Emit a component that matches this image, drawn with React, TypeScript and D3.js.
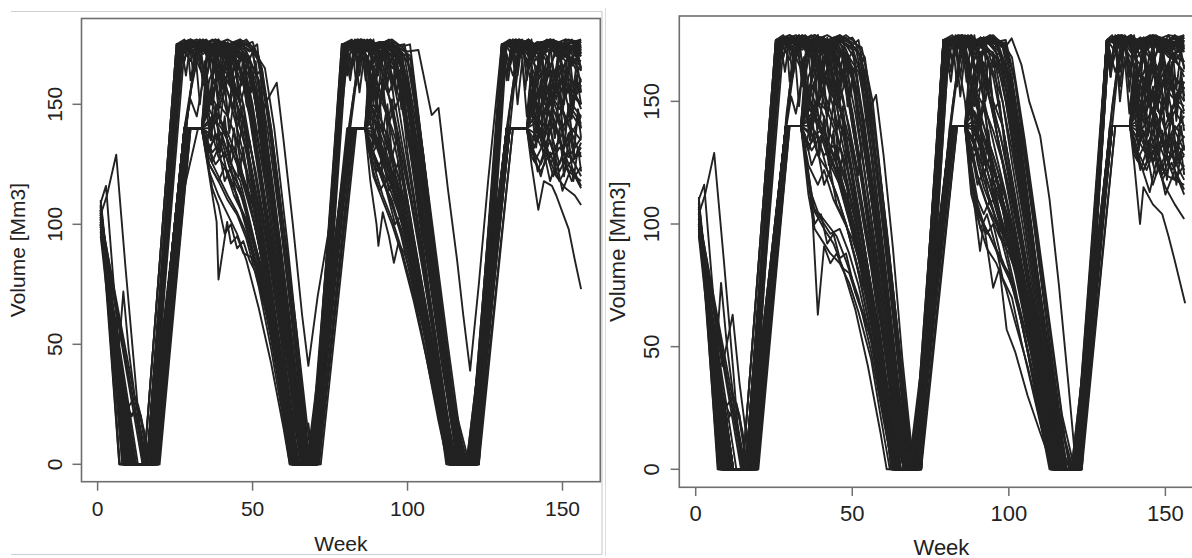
import React from "react";
import * as d3 from "d3";

// Each run: flat list of week, volume pairs
const leftRuns: number[][] = [
  [1,104, 7,0, 16,0, 26,175, 31,176, 36,173, 41,176, 45,172, 49,170, 54,130, 60,70, 64,20, 66,0, 70,0, 80,175, 86,174, 91,176, 96,171, 100,168, 105,130, 110,75, 115,20, 118,0, 121,0, 131,175, 136,176, 141,172, 146,175, 151,170, 156,168],
  [1,100, 9,0, 17,0, 28.5,140, 33.6,140, 37,158, 40,166, 43,160, 46,150, 50,128, 55,90, 59,55, 63,12, 65,0, 69,0, 81.5,140, 86.3,140, 89,155, 92,160, 95,150, 99,125, 104,90, 109,50, 113,15, 116,0, 121,0, 132.5,140, 138.5,140, 141,158, 144,165, 148,160, 152,170, 156,164],
  [1,108, 10,0, 16.5,0, 27,175, 30,173, 34,177, 38,174, 42,170, 46,175, 50,172, 53,150, 57,110, 61,65, 65,25, 68,0, 70,0, 79,175, 84,177, 88,173, 93,176, 98,172, 101,165, 105,120, 110,70, 115,25, 119,0, 122,0, 131,175, 135,177, 140,173, 145,176, 150,172, 156,175],
  [1,96, 11,0, 19.5,0, 29.5,140, 33.6,140, 36,128, 39,120, 42,112, 45,105, 48,96, 52,78, 56,52, 60,22, 63,0, 68,0, 81,140, 86.3,140, 89,128, 92,118, 95,108, 98,98, 102,80, 106,55, 110,28, 114,5, 115.5,0, 120,0, 132,140, 138.5,140, 141,150, 144,145, 147,152, 150,140, 153,148, 156,142],
  [1,110, 7,0, 15,0, 25.5,175, 29,176, 33,174, 37,177, 41,173, 45,176, 49,172, 51.5,175, 55,130, 60,75, 65,20, 69,0, 71,0, 79.5,175, 84,176, 89,173, 94,177, 98,174, 100.8,175, 105,130, 110,75, 115,25, 120,0, 123,0, 131,175, 134,177, 139,174, 143,176, 148,173, 152,177, 156,174],
  [1,102, 12,0, 17.5,0, 28,140, 30,152, 32,145, 34,160, 36,150, 39,162, 42,155, 45,145, 48,130, 52,105, 56,72, 60,38, 63.5,5, 64.5,0, 69,0, 80.5,140, 86.3,140, 89,150, 92,142, 95,130, 98,115, 102,92, 106,62, 110,32, 114,5, 115,0, 120.5,0, 133,140, 138.5,140, 140,150, 143,158, 146,150, 149,160, 152,155, 156,150],
  [1,106, 9,0, 16,0, 26.5,175, 30,172, 34,175, 38,169, 41,173, 44,166, 47,150, 51,120, 55,88, 59,55, 63,20, 66,0, 69.5,0, 78.8,175, 83,173, 87,176, 91,172, 95,174, 98,165, 102,135, 106,95, 110,60, 114,25, 117.5,0, 122,0, 130.4,175, 134,174, 138,176, 142,171, 146,175, 150,169, 153,173, 156,170],
  [1,98, 15.5,0, 19.5,0, 30,140, 33.6,140, 35,135, 38,125, 41,130, 44,118, 47,110, 50,95, 54,70, 58,40, 62,8, 63,0, 71.5,0, 83,140, 86.3,140, 88,132, 91,124, 94,116, 97,105, 100,92, 104,68, 108,42, 112,15, 115.3,0, 122.5,0, 134,140, 138.5,140, 141,132, 143,140, 146,128, 149,135, 152,125, 156,130],
  [1,103, 8.5,0, 16,0, 27,165, 28,175, 32,177, 36,174, 40,176, 44,173, 48,176, 52,168, 56,135, 60,90, 64,45, 67,8, 68,0, 70.5,0, 80,175, 85,177, 90,174, 95,176, 99,170, 103,140, 107,100, 111,60, 115,22, 118,0, 122.5,0, 131.5,175, 136,176, 141,173, 145,177, 150,174, 154,176, 156,171],
  [1,100, 10,0, 17,0, 28,140, 30.5,160, 33,174, 37,170, 40,175, 43,172, 47,168, 50,150, 54,118, 58,80, 62,40, 65,10, 66.5,0, 70,0, 81,140, 83.5,162, 86,174, 90,168, 93,172, 96,165, 100,140, 104,108, 108,72, 112,38, 116,8, 117,0, 121,0, 132,140, 134.5,162, 137,174, 140,168, 142,165, 145,175, 149,170, 153,174, 156,165],
  [1,107, 11,0, 17,0, 27.5,175, 31,174, 35,176, 39,170, 43,174, 46,165, 49,145, 53,112, 57,78, 61,45, 64.5,12, 66,0, 69,0, 79.5,175, 84,174, 88,177, 92,173, 96,170, 99,150, 103,118, 107,85, 111,50, 115,15, 117,0, 121.5,0, 131,175, 135,174, 139,177, 143,172, 147,176, 151,171, 156,176],
  [1,97, 7,40, 10,20, 12,22, 14,12, 15.5,0, 19.5,0, 29.5,140, 33.6,140, 36,122, 39,112, 42,104, 45,96, 48,85, 52,65, 56,42, 60,15, 62,0, 70.5,0, 82,140, 86.3,140, 89,120, 92,110, 95,100, 98,88, 102,68, 106,45, 110,20, 113,0, 121.5,0, 133,140, 138.5,140, 140,132, 143,125, 146,135, 149,122, 152,130, 156,120],
  [1,109, 9.5,0, 16.5,0, 26,175, 30,177, 34,175, 38,177, 42,174, 46,176, 50,173, 54,165, 57,140, 61,95, 65,45, 68,5, 69,0, 71,0, 80.5,175, 85,176, 89,174, 94,176, 98,173, 101,170, 104,140, 108,95, 112,52, 116,15, 119,0, 123,0, 132,175, 137,176, 142,174, 146,177, 151,175, 156,177],
  [1,101, 14.5,0, 18,0, 28.5,140, 33.6,140, 37,145, 40,140, 43,132, 46,122, 49,110, 53,85, 57,58, 61,28, 64,0, 69,0, 81,140, 86.3,140, 89,145, 92,135, 95,122, 98,110, 102,85, 106,58, 110,30, 114,2, 115,0, 120,0, 133,140, 138.5,140, 141,145, 144,152, 147,140, 150,148, 153,138, 156,145],
  [1,105, 8.2,0, 15.8,0, 26,170, 27,175, 31,174, 35,177, 39,172, 43,175, 47,170, 51,160, 55,125, 59,85, 63,45, 66,10, 67,0, 70,0, 79,175, 84,173, 88,176, 92,171, 96,174, 100,160, 104,125, 108,88, 112,50, 116,12, 118,0, 122,0, 130.8,175, 135,173, 139,176, 143,174, 147,177, 151,173, 156,176],
  [1,99, 5,55, 8,30, 10,24, 12,28, 14,18, 15.5,8, 16.5,0, 18.5,0, 29.5,140, 33.6,140, 36,152, 39,145, 42,138, 45,128, 48,115, 52,92, 56,65, 60,35, 63,5, 64,0, 68,0, 82,140, 86.3,140, 88,150, 91,142, 94,132, 97,120, 101,98, 105,70, 109,40, 113,10, 115,0, 120,0, 132,140, 138.5,140, 140,148, 143,142, 146,155, 149,148, 152,158, 156,150],
  [1,106, 10.5,0, 17,0, 27,175, 31,176, 34,172, 38,175, 42,171, 45,168, 48,155, 52,128, 56,95, 60,60, 64,22, 67,0, 70,0, 80,175, 84,176, 88,172, 92,175, 96,168, 99,145, 103,112, 107,78, 111,42, 115,10, 117,0, 121,0, 131.5,175, 135,176, 140,171, 145,175, 149,172, 153,176, 156,173],
  [1,95, 9,0, 16,0, 28.5,140, 31,165, 32.5,175, 36,172, 38,175, 42,177, 46,174, 50,176, 53,165, 57,125, 61,80, 65,35, 68,0, 70.5,0, 81.5,140, 84,165, 85.5,176, 89,172, 91,176, 95,174, 99,175, 102,155, 106,115, 110,75, 114,35, 118,0, 122,0, 133,140, 135,165, 136.5,176, 141,170, 143,176, 147,175, 151,177, 156,176],
  [1,103, 16,0, 19,0, 29.5,140, 33.6,140, 37,135, 40,138, 43,125, 46,118, 49,102, 53,80, 57,52, 61,20, 63,0, 71,0, 83,140, 86.3,140, 89,135, 92,128, 95,118, 98,102, 102,78, 106,50, 110,22, 113.5,0, 122,0, 133,140, 138.5,140, 141,138, 144,130, 147,142, 150,132, 153,138, 156,128],
  [1,108, 7.2,0, 15,0, 25.5,175, 29,173, 33,176, 37,172, 40,170, 43,160, 46,145, 50,115, 54,85, 58,55, 62,22, 65,0, 69,0, 78.8,175, 82,174, 86,176, 90,170, 93,160, 96,140, 100,110, 104,80, 108,50, 112,20, 116,0, 120.5,0, 130.4,175, 134,176, 138,173, 142,176, 146,172, 150,175, 156,171],
  [1,100, 11.5,0, 17.5,0, 28,140, 33.6,140, 35,160, 36.5,172, 41,170, 44,176, 48,172, 52,160, 56,120, 60,78, 64,32, 67,0, 69.5,0, 81,140, 86.3,140, 87.5,160, 89,172, 94,175, 98,172, 101,150, 105,112, 109,72, 113,30, 117,0, 121.5,0, 132,140, 138.5,140, 140,155, 143,168, 146,176, 150,172, 153,177, 156,170],
  [1,104, 9,0, 16.5,0, 27,175, 30,175, 34,171, 37,174, 40,165, 43,150, 46,135, 49,118, 53,92, 57,62, 61,30, 64,0, 68.5,0, 79.5,175, 83,175, 87,170, 90,160, 93,148, 96,132, 100,108, 104,80, 108,52, 112,22, 115.5,0, 120,0, 131,175, 135,175, 139,168, 142,160, 145,165, 148,155, 151,162, 156,155],
  [1,97, 12,0, 20,0, 30,140, 33.6,140, 36,140, 39,150, 42,145, 45,135, 48,122, 51,105, 55,78, 59,48, 62.5,15, 64,0, 72,0, 83.5,140, 86.3,140, 89,148, 92,138, 95,126, 98,112, 102,88, 106,60, 110,30, 114,0, 123,0, 134,140, 138.5,140, 141,150, 144,138, 147,145, 150,132, 153,140, 156,135],
  [1,110, 10,0, 16,0, 26.5,175, 30,176, 34,174, 38,177, 42,175, 46,177, 50,174, 52,170, 56,140, 60,100, 64,58, 68,12, 69.5,0, 71,0, 80,175, 85,177, 90,175, 95,177, 99,173, 101,168, 105,130, 109,90, 113,50, 117,12, 119.5,0, 123,0, 131.5,175, 136,177, 141,175, 146,177, 151,175, 156,172],
  [1,102, 6,45, 9,26, 11,20, 13,25, 15,14, 16.5,0, 19,0, 29.5,140, 33.6,140, 36,130, 38,138, 41,128, 44,132, 47,120, 50,108, 54,82, 58,55, 62,20, 64,0, 68,0, 82.5,140, 86.3,140, 88,128, 91,135, 94,125, 97,115, 100,100, 104,75, 108,48, 112,18, 115,0, 120.5,0, 133,140, 138.5,140, 140,130, 143,138, 146,125, 149,132, 152,128, 156,136],
  [1,105, 8.5,0, 16,0, 27,175, 29,174, 33,176, 37,171, 41,175, 44,170, 47,162, 50,140, 54,105, 58,70, 62,35, 65,5, 66,0, 70,0, 79,175, 83,176, 87,172, 91,175, 94,168, 97,150, 101,118, 105,85, 109,52, 113,18, 116,0, 121,0, 131,175, 135,173, 139,176, 143,170, 147,174, 151,168, 156,172],
  [1,98, 11,0, 17,0, 28.5,140, 33.6,140, 36,155, 39,148, 42,160, 45,150, 48,140, 51,122, 55,92, 59,58, 63,18, 65,0, 69,0, 81.5,140, 86.3,140, 89,158, 92,150, 95,140, 98,128, 101,110, 105,80, 109,48, 113,15, 115.5,0, 121,0, 132,140, 138.5,140, 141,160, 144,150, 147,165, 150,155, 153,168, 156,160],
  [1,107, 9,0, 16.5,0, 26,175, 30,177, 34,173, 38,176, 42,172, 45,175, 48,170, 51,150, 55,115, 59,80, 63,40, 66,5, 67,0, 70,0, 80,175, 84,177, 88,173, 92,176, 96,172, 99,162, 102,130, 106,95, 110,58, 114,22, 117,0, 122,0, 131,175, 135,177, 140,173, 144,176, 148,172, 152,176, 156,174],
  [1,101, 10,0, 17,0, 28,140, 33.6,140, 36,125, 39,118, 41,124, 44,112, 47,104, 50,95, 53,82, 57,55, 61,22, 63.5,5, 66,8, 68,17, 69.5,0, 70,0, 81,140, 86.3,140, 89,122, 91,114, 94,120, 97,106, 100,98, 104,72, 108,45, 112,15, 114.5,0, 119.5,0, 132,140, 138.5,140, 140,128, 143,122, 146,130, 149,118, 152,125, 156,115],
  [1,104, 15,0, 19.5,0, 29,145, 31.5,170, 33,176, 37,172, 40,176, 44,174, 48,177, 51,172, 54,155, 58,115, 62,70, 66,25, 68.5,0, 70.5,0, 82,148, 84.5,172, 86,176, 89,172, 92,176, 96,173, 100,170, 103,145, 107,105, 111,62, 115,22, 118.5,0, 122.5,0, 133,148, 135.5,172, 137,176, 141,168, 144,174, 148,176, 152,173, 156,177],
  [1,99, 10.5,0, 17,0, 28,140, 33.6,140, 36,148, 39,140, 42,130, 45,118, 48,104, 51,90, 55,65, 59,38, 62,10, 63,0, 68.5,0, 81,140, 86.3,140, 88,142, 91,132, 94,122, 97,110, 100,96, 104,70, 108,44, 112,14, 114.5,0, 120,0, 132,140, 138.5,140, 141,142, 144,135, 147,148, 150,140, 153,150, 156,145],
  [1,106, 9.5,0, 16,0, 26.5,175, 30,174, 33,177, 37,173, 40,176, 43,172, 46,174, 49,165, 53,135, 57,100, 61,62, 65,22, 67.5,0, 70,0, 79.5,175, 83,174, 87,177, 91,172, 95,175, 98,170, 101,150, 105,115, 109,78, 113,40, 117,5, 118,0, 122,0, 131,175, 135,174, 139,177, 143,173, 147,176, 151,172, 156,175],
  [1,103, 11,0, 17.5,0, 28.5,140, 30,155, 32,168, 34,162, 36,172, 38,165, 41,160, 44,170, 47,160, 50,145, 54,110, 58,75, 62,38, 65.5,0, 69.5,0, 81.5,140, 86.3,140, 89,160, 92,170, 95,162, 98,150, 101,130, 105,98, 109,62, 113,28, 116.5,0, 121,0, 132.5,140, 138.5,140, 141,160, 144,170, 147,162, 150,172, 153,166, 156,172],
  [1,100, 12,0, 19.5,0, 29.5,140, 33.6,140, 36,132, 39,138, 42,120, 45,112, 48,98, 51,84, 55,60, 58,38, 61,12, 62.5,0, 71,0, 82.5,140, 86.3,140, 89,130, 92,118, 95,110, 98,96, 101,82, 105,58, 109,32, 112.5,5, 113.5,0, 122,0, 133,140, 138.5,140, 141,126, 144,134, 147,120, 150,128, 153,118, 156,124],
  [1,104, 3,112, 6,129, 9,82, 12,38, 14.5,0, 17.5,0, 27,175, 31,176, 35,173, 39,176, 43,172, 47,168, 51,135, 55,98, 59,62, 63,25, 66,0, 69.5,0, 79,175, 84,176, 88,173, 92,176, 96,170, 100,150, 104,115, 108,80, 112,45, 116,10, 117.5,0, 121.5,0, 131,175, 136,176, 141,172, 146,176, 151,171, 156,174],
  [1,109, 2.7,116, 5,78, 8,32, 10,0, 16.5,0, 28.5,140, 33.6,140, 37,130, 40,135, 43,122, 46,115, 49,100, 53,78, 57,50, 61,18, 63,0, 68,0, 81.5,140, 86.3,140, 89,140, 92,130, 95,120, 98,108, 102,85, 106,58, 110,28, 113.5,0, 119.5,0, 132.5,140, 138.5,140, 141,152, 144,146, 147,158, 150,150, 153,160, 156,155],
  [1,100, 4,62, 6.5,42, 8.3,72, 10,48, 12,28, 14,20, 15.5,6, 16.5,0, 18.5,0, 29,140, 33.6,140, 36,142, 39,128, 42,122, 45,112, 48,100, 52,80, 56,55, 60,25, 62.5,0, 68,0, 82,140, 86.3,140, 89,138, 92,126, 95,116, 98,104, 102,80, 106,52, 110,24, 113.5,0, 120,0, 133,140, 138.5,140, 141,135, 144,142, 147,130, 150,138, 153,126, 156,132],
  [1,102, 10,0, 17,0, 28.5,140, 33.6,140, 38.4,101, 39,77, 41.8,101, 43,92, 45,95, 47,88, 50,86, 52,78, 54.6,65, 58,40, 61,12, 62.5,0, 68,0, 81.5,140, 86.3,140, 89,125, 92,112, 95,102, 98,90, 102,70, 106,46, 110,20, 113,0, 119,0, 132,140, 138.5,140, 141,145, 144,136, 147,148, 150,138, 153,146, 156,140],
  [1,97, 12.5,0, 18,0, 29,140, 33.6,140, 37,115, 39,108, 41,96, 43,100, 45,90, 47,93, 49,85, 51,80, 53,70, 56,55, 59,32, 62,5, 63,0, 68.5,0, 82,140, 86.3,140, 88,118, 90,100, 90.6,91, 92,105, 94,95, 95.6,84, 97,92, 99,88, 101,80, 104,62, 108,40, 112,15, 114.5,0, 119.5,0, 132.5,140, 138.5,140, 140,125, 142.2,106, 144,118, 146.6,116, 148,112, 150,105, 152,98, 154,85, 156,73],
  [1,105, 9,0, 16,0, 27,175, 31,174, 35,176, 39,172, 43,170, 47,162, 48,150, 51.5,137, 54,150, 57.8,159, 60,135, 63,100, 66,62, 68,41, 71,70, 75.7,106, 79,150, 81,175, 85,176, 89,173, 93,175, 97,170, 100,155, 104,120, 108,85, 112,48, 116,12, 117.5,0, 121,0, 131,175, 135,176, 140,172, 145,175, 150,170, 156,173],
  [1,101, 11,0, 17,0, 28,140, 33.6,140, 37,155, 40,165, 44,172, 48,168, 52,150, 56,112, 60,72, 64,30, 66.5,0, 69.5,0, 80,175, 84,176, 88,172, 92,176, 96,174, 100,172, 103.5,172.6, 107.8,145.5, 110,148.5, 113,115, 116,85, 118,62, 120.2,39, 123,75, 126,118, 130.4,175, 135,176, 140,172, 145,176, 150,173, 156,176],
  [1,106, 8.5,0, 16,0, 26.5,175, 30,175, 34,172, 38,175, 42,168, 46,150, 50,120, 54,88, 58,55, 62,22, 64.5,0, 69,0, 79,175, 83,174, 87,170, 90,150, 92,120, 94,110, 96,100, 98,104, 100,95, 103,70, 107,45, 110,25, 113,5, 114.5,0, 120,0, 131,175, 135,174, 139,176, 143,172, 147,175, 151,170, 156,166],
  [1,99, 13,0, 18.5,0, 29.5,140, 33.6,140, 36,138, 39,145, 42,135, 45,125, 48,112, 51,98, 55,72, 59,42, 62,12, 63.5,0, 68.5,0, 82,140, 86.3,140, 89,136, 92,125, 95,115, 98,102, 102,78, 106,50, 110,22, 113.5,0, 120,0, 133,140, 138.5,140, 141,128, 143,120, 145,130, 148,120, 151,115, 154,112, 156,108],
  [1,103, 10.5,0, 17,0, 28,140, 33.6,140, 36,160, 39,170, 42,175, 46,170, 50,158, 54,125, 58,88, 62,48, 65,12, 66.5,0, 70,0, 81,140, 86.3,140, 89,162, 92,172, 95,170, 98,160, 101,135, 105,100, 109,65, 113,28, 116,0, 121,0, 132,140, 138.5,140, 140,150, 143,135, 146,128, 149,135, 152,122, 156,118],
  [1,104, 10,0, 16.5,0, 19,25, 22,62, 24.4,90, 28,115, 32.4,140, 33.6,140, 36,125, 39,118, 42,110, 45,104, 48,94, 52,74, 56,48, 60,18, 62,0, 67.5,0, 81,140, 86.3,140, 89,130, 92,120, 95,108, 98,95, 102,72, 106,45, 110,18, 113,0, 119,0, 132,140, 138.5,140, 141,150, 144,160, 147,152, 150,162, 153,155, 156,160],
  [1,103, 9,0, 16.5,0, 27,175, 30,168, 32,176, 35,160, 37,172, 40,158, 42,170, 45,155, 48,162, 51,140, 54,118, 58,84, 62,45, 65.5,8, 66.5,0, 70,0, 80,175, 82,165, 85,176, 88,160, 91,172, 94,155, 97,165, 100,140, 104,108, 108,72, 112,36, 116,4, 117,0, 121.5,0, 131,175, 134,162, 137,176, 140,158, 143,170, 146,150, 149,166, 152,148, 156,160],
  [1,99, 10,0, 17,0, 28.5,140, 33.6,140, 35,158, 37,150, 39,168, 41,155, 43,172, 46,160, 49,168, 52,150, 55,128, 59,92, 63,50, 66,15, 67,0, 70,0, 81.5,140, 86.3,140, 88,160, 90,150, 92,170, 95,158, 98,165, 101,140, 105,105, 109,68, 113,30, 116.5,0, 121,0, 132.5,140, 138.5,140, 140,160, 142,148, 145,170, 148,152, 151,168, 153,150, 156,158],
  [1,107, 8.5,0, 16,0, 26,175, 29,170, 31,176, 34,162, 36,174, 39,165, 41,176, 44,160, 47,172, 50,160, 53,165, 56,140, 60,98, 64,52, 67.5,8, 68.5,0, 71,0, 79.5,175, 82,168, 85,177, 88,164, 91,176, 94,166, 97,174, 100,160, 103,135, 107,98, 111,60, 115,22, 118,0, 122,0, 131,175, 133,166, 136,177, 139,164, 142,176, 145,160, 148,174, 151,162, 154,172, 156,165],
  [1,101, 11.5,0, 17.5,0, 28.5,140, 33.6,140, 35,132, 37,145, 39,130, 41,142, 43,125, 45,135, 47,118, 50,110, 53,92, 57,62, 61,28, 63.5,0, 68.5,0, 81.5,140, 86.3,140, 88,130, 90,142, 92,126, 94,136, 96,118, 99,105, 103,80, 107,52, 111,22, 114,0, 120,0, 132.5,140, 138.5,140, 140,132, 142,145, 144,128, 146,140, 149,125, 152,138, 154,128, 156,134],
  [1,105, 9.5,0, 16.5,0, 27,175, 30,171, 33,176, 36,168, 39,177, 42,166, 45,175, 48,165, 50,172, 53,150, 57,112, 61,70, 65,28, 68,0, 70.5,0, 80,175, 83,170, 86,177, 89,167, 92,176, 95,165, 98,170, 101,148, 105,112, 109,74, 113,36, 117,0, 122,0, 131.5,175, 134,170, 137,177, 140,168, 143,176, 146,166, 149,175, 152,168, 156,174],
  [1,100, 12,0, 18,0, 29,140, 33.6,140, 35,150, 37,140, 40,155, 42,145, 44,158, 46,140, 49,135, 52,112, 56,80, 60,45, 63.5,8, 64.5,0, 69,0, 82,140, 86.3,140, 88,152, 90,140, 92,155, 94,142, 96,150, 99,128, 103,98, 107,65, 111,30, 114.5,0, 120,0, 133,140, 138.5,140, 140,152, 142,140, 144,158, 146,145, 148,160, 151,142, 154,155, 156,148],
  [1,108, 8,0, 15,0, 25.5,175, 28,177, 31,170, 34,177, 37,168, 40,176, 43,170, 46,177, 49,168, 52,160, 55,138, 59,100, 63,58, 67,15, 68.5,0, 71,0, 79,175, 82,177, 85,170, 88,177, 91,169, 94,176, 97,168, 100,158, 104,122, 108,85, 112,48, 116,12, 118,0, 122.5,0, 130.5,175, 133,177, 136,170, 139,177, 142,168, 145,176, 148,170, 151,177, 154,168, 156,173],
  [1,102, 10.5,0, 17,0, 28,140, 33.6,140, 35,138, 37,126, 39,132, 41,118, 43,124, 45,110, 48,102, 51,88, 54,72, 58,48, 61,22, 63,0, 68,0, 81,140, 86.3,140, 88,135, 90,122, 92,128, 94,114, 96,120, 98,104, 101,92, 105,68, 109,40, 112.5,12, 113.5,0, 119.5,0, 132,140, 138.5,140, 140,135, 142,122, 144,130, 146,118, 148,126, 150,114, 153,124, 156,116],
  [1,101, 9.5,0, 17,0, 27.5,165, 29,175, 30,160, 31.5,172, 33,150, 34.5,168, 36,148, 37.5,170, 39,152, 40.5,166, 42,145, 43.5,160, 45,140, 47,150, 49,128, 52,108, 56,75, 60,40, 64,5, 65,0, 69.5,0, 80,170, 81.5,160, 83,174, 84.5,155, 86,170, 87.5,150, 89,166, 90.5,146, 92,160, 93.5,140, 95,152, 97,130, 100,110, 104,78, 108,45, 112,12, 113.5,0, 120.5,0, 131,170, 132.5,160, 134,175, 135.5,150, 137,168, 138.5,145, 140,165, 141.5,140, 143,160, 144.5,138, 146,158, 147.5,136, 149,155, 150.5,132, 152,150, 153.5,130, 155,148, 156,140],
  [1,106, 8,0, 16,0, 26,175, 28,168, 29.5,176, 31,162, 32.5,175, 34,158, 35.5,174, 37,160, 38.5,176, 40,155, 41.5,172, 43,158, 44.5,170, 46,150, 48,160, 50,138, 53,115, 57,80, 61,45, 65,8, 66,0, 70,0, 79,175, 80.5,162, 82,176, 83.5,158, 85,175, 86.5,160, 88,176, 89.5,154, 91,172, 92.5,156, 94,168, 96,148, 98,155, 100,130, 104,96, 108,62, 112,28, 115.5,0, 121,0, 130.5,175, 132,160, 133.5,176, 135,158, 136.5,175, 138,156, 139.5,176, 141,152, 142.5,172, 144,150, 145.5,170, 147,148, 148.5,168, 150,146, 151.5,165, 153,144, 154.5,162, 156,150],
  [1,99, 11,0, 18,0, 28.5,140, 33.6,140, 35,165, 36.5,150, 38,172, 39.5,155, 41,176, 42.5,158, 44,174, 45.5,152, 47,170, 48.5,150, 50,162, 52,140, 55,110, 59,72, 63,32, 66,0, 70.5,0, 81.5,140, 86.3,140, 87.5,165, 89,150, 90.5,172, 92,154, 93.5,176, 95,156, 96.5,170, 98,148, 100,155, 102,128, 106,92, 110,55, 114,18, 116.5,0, 121.5,0, 132.5,140, 138.5,140, 140,165, 141.5,150, 143,172, 144.5,154, 146,176, 147.5,155, 149,172, 150.5,150, 152,168, 153.5,148, 155,165, 156,155],
  [1,104, 10,0, 17,0, 28,140, 33.6,140, 35,155, 36.5,140, 38,160, 39.5,142, 41,158, 42.5,138, 44,152, 45.5,132, 47,145, 49,122, 52,100, 56,68, 60,34, 63,5, 64,0, 69,0, 81,140, 86.3,140, 87.5,156, 89,140, 90.5,158, 92,138, 93.5,150, 95,128, 97,138, 99,112, 103,82, 107,50, 111,20, 114,0, 120,0, 132,140, 138.5,140, 140,156, 141.5,138, 143,160, 144.5,140, 146,158, 147.5,136, 149,155, 150.5,132, 152,150, 153.5,128, 155,146, 156,136],
  [1,102, 9,0, 16.5,0, 27,175, 28.5,162, 30,176, 31.5,165, 33,177, 34.5,160, 36,175, 37.5,163, 39,177, 40.5,160, 42,176, 43.5,162, 45,175, 46.5,158, 48,172, 49.5,155, 51,168, 53,145, 56,115, 60,72, 64,28, 67,0, 70.5,0, 80,175, 81.5,163, 83,177, 84.5,162, 86,176, 87.5,160, 89,177, 90.5,162, 92,175, 93.5,158, 95,172, 96.5,155, 98,165, 100,140, 103,110, 107,72, 111,36, 115,2, 115.5,0, 121,0, 131,175, 132.5,164, 134,177, 135.5,162, 137,176, 138.5,160, 140,177, 141.5,161, 143,176, 144.5,158, 146,175, 147.5,160, 149,176, 150.5,158, 152,174, 153.5,156, 155,172, 156,164],
  [1,100, 12,0, 18.5,0, 29,140, 33.6,140, 35,148, 36.5,135, 38,150, 39.5,130, 41,145, 42.5,126, 44,140, 45.5,120, 47,132, 49,110, 52,92, 56,62, 60,28, 62.5,0, 68,0, 82,140, 86.3,140, 87.5,150, 89,132, 90.5,146, 92,128, 93.5,140, 95,118, 97,126, 99,102, 103,74, 107,45, 111,14, 112.5,0, 119.5,0, 133,140, 138.5,140, 140,148, 141.5,132, 143,150, 144.5,128, 146,145, 147.5,124, 149,140, 150.5,120, 152,136, 153.5,118, 155,132, 156,122],
];

const rightRuns: number[][] = [
  [1,105, 7.2,0, 16.5,0, 25.6,175, 30,176, 34,173, 38,176, 42,172, 46,175, 50,171, 54,140, 58,100, 62,58, 66,15, 67.5,0, 70.5,0, 79.1,175, 83,176, 87,173, 91,176, 95,172, 98.8,174, 103,140, 107,100, 111,62, 115,25, 118.5,0, 122.5,0, 131.3,175, 135,176, 140,173, 145,176, 150,172, 156,175],
  [1,100, 9.5,0, 17,0, 28.8,140, 33.6,140, 36,155, 39,165, 42,158, 45,148, 49,125, 53,95, 57,65, 61,30, 64.5,0, 69.5,0, 81.5,140, 86,140, 89,152, 92,158, 95,148, 98,132, 102,105, 106,75, 110,45, 114,15, 116,0, 122,0, 132.5,140, 138.7,140, 141,155, 144,165, 148,158, 152,168, 156,162],
  [1,108, 10,0, 17,0, 26.5,175, 30,173, 34,177, 38,174, 42,171, 46,175, 50,172, 53,160, 57,122, 61,78, 65,32, 68.5,0, 71,0, 80,175, 84,177, 88,173, 93,176, 97,172, 100,160, 104,125, 108,90, 112,55, 116,22, 120,0, 123,0, 132,175, 136,177, 141,173, 146,176, 151,172, 156,176],
  [1,96, 11,0, 19.5,0, 29.5,140, 33.6,140, 35,130, 37,112, 39,105, 42,100, 45,95, 48,85, 52,70, 56,48, 60,20, 63,0, 69,0, 82,140, 86,140, 88,122, 90,108, 92,100, 95,92, 98,85, 101,75, 105,55, 109,32, 113,8, 114.5,0, 121,0, 133,140, 138.7,140, 141,148, 144,142, 147,150, 150,138, 153,146, 156,140],
  [1,111, 7,0, 15,0, 25.6,175, 29,176, 33,174, 37,177, 41,173, 45,176, 49,172, 52,175, 56,145, 60,100, 64,52, 68,8, 70,0, 72,0, 80,175, 84,176, 89,173, 94,177, 98,174, 101,168, 105,135, 109,98, 113,60, 117,22, 121,0, 123.3,0, 131.5,175, 135,177, 140,174, 144,176, 149,173, 153,177, 156,174],
  [1,102, 12,0, 18,0, 29,140, 30.5,152, 32,145, 34,160, 36,152, 39,160, 42,150, 45,138, 48,120, 52,95, 56,66, 60,35, 64,0, 69,0, 81.5,140, 86,140, 89,140, 92,128, 95,112, 98,100, 101,88, 105,65, 109,40, 113,12, 114.5,0, 121,0, 133,140, 138.7,140, 140,152, 143,160, 146,150, 149,158, 152,152, 156,148],
  [1,106, 9,0, 16.5,0, 26.5,175, 30,172, 34,175, 38,169, 41,173, 44,167, 47,152, 51,124, 55,92, 59,60, 63,25, 66.5,0, 70,0, 79.1,175, 83,173, 87,176, 91,172, 95,170, 98,150, 101,125, 105,95, 109,62, 113,30, 117,0, 122,0, 131.3,175, 135,174, 139,176, 143,171, 147,175, 151,169, 156,171],
  [1,98, 15.5,0, 19.5,0, 30,140, 33.6,140, 35,128, 37,108, 40,102, 43,96, 46,98, 49,88, 52,75, 56,52, 60,22, 63.5,0, 71.5,0, 83.5,140, 86,140, 88,128, 91,115, 94,104, 97,95, 100,88, 103,78, 107,55, 111,30, 115,5, 116,0, 123,0, 134,140, 138.7,140, 141,130, 143,138, 146,126, 149,134, 152,122, 156,128],
  [1,103, 8.8,0, 16,0, 27,165, 28,175, 32,177, 36,174, 40,176, 44,173, 48,176, 52,170, 55,150, 59,108, 63,62, 67,15, 69,0, 71,0, 80.5,175, 85,177, 90,174, 95,176, 99,171, 102,150, 106,112, 110,72, 114,35, 118,5, 119.5,0, 123,0, 132,175, 136,176, 141,173, 145,177, 150,174, 154,176, 156,172],
  [1,100, 10,0, 17.5,0, 28.8,140, 31,160, 33,174, 37,170, 40,175, 43,172, 47,170, 51,155, 55,120, 59,82, 63,42, 66,10, 67.5,0, 70.5,0, 81.2,140, 83.5,162, 86,174, 90,168, 93,172, 96,168, 100,145, 104,110, 108,75, 112,42, 116,10, 117.5,0, 122,0, 132.3,140, 134.5,162, 137,174, 140,168, 142,165, 145,175, 149,170, 153,174, 156,166],
  [1,107, 11,0, 17,0, 27.5,175, 31,174, 35,176, 39,170, 43,174, 46,166, 49,148, 53,118, 57,85, 61,50, 65,12, 66.5,0, 70,0, 80,175, 84,174, 88,177, 92,172, 95,160, 98,140, 102,112, 106,82, 110,52, 114,20, 116.5,0, 122,0, 131.5,175, 135,174, 139,177, 143,172, 147,176, 151,171, 156,175],
  [1,97, 7,40, 10,20, 12,24, 14,12, 15.5,0, 19.5,0, 29.5,140, 33.6,140, 36,120, 38,105, 41,98, 44,92, 47,82, 51,65, 55,42, 59,15, 61,0, 70.5,0, 82.5,140, 86,140, 88,115, 91,102, 94,95, 97,86, 100,78, 103,68, 107,48, 111,22, 114.2,0, 122,0, 133,140, 138.7,140, 140,130, 143,122, 146,132, 149,120, 152,128, 156,118],
  [1,109, 9.5,0, 16.5,0, 26,175, 30,177, 34,175, 38,177, 42,174, 46,176, 50,173, 54,166, 57,140, 61,98, 65,50, 68.5,8, 70,0, 72,0, 81,175, 85,176, 89,174, 94,176, 98,173, 101,160, 104,135, 108,100, 112,62, 116,25, 119.5,0, 123,0, 132,175, 137,176, 142,174, 146,177, 151,175, 156,177],
  [1,101, 14.5,0, 18,0, 29,140, 33.6,140, 37,145, 40,138, 43,128, 46,118, 49,105, 53,80, 57,55, 61,25, 64,0, 69.5,0, 81.5,140, 86,140, 89,142, 92,130, 95,118, 98,106, 102,84, 106,60, 110,34, 114,8, 115.5,0, 121,0, 133,140, 138.7,140, 141,145, 144,152, 147,140, 150,148, 153,138, 156,144],
  [1,105, 8.2,0, 16,0, 26,170, 27,175, 31,174, 35,177, 39,172, 43,175, 47,170, 51,162, 55,130, 59,92, 63,52, 66.5,15, 68,0, 71,0, 79.5,175, 84,173, 88,176, 92,171, 96,168, 99,150, 103,118, 107,85, 111,50, 115,15, 117.5,0, 122.5,0, 131.3,175, 135,173, 139,176, 143,174, 147,177, 151,173, 156,176],
  [1,99, 5,55, 8,32, 10,26, 12,30, 14,20, 15.5,8, 16.5,0, 19,0, 29.5,140, 33.6,140, 36,150, 39,142, 42,134, 45,124, 48,112, 52,90, 56,64, 60,34, 63.5,0, 69,0, 82,140, 86,140, 88,148, 91,138, 94,126, 97,114, 100,102, 103,88, 107,64, 111,38, 115,10, 116.5,0, 121.5,0, 132.5,140, 138.7,140, 140,148, 143,142, 146,155, 149,148, 152,158, 156,150],
  [1,106, 10.5,0, 17,0, 27,175, 31,176, 34,172, 38,175, 42,171, 45,168, 48,156, 52,130, 56,98, 60,64, 64,26, 67,0, 70.5,0, 80,175, 84,176, 88,172, 91,165, 94,150, 97,132, 100,115, 104,90, 108,62, 112,35, 116,8, 117.5,0, 122,0, 131.5,175, 135,176, 140,171, 145,175, 149,172, 153,176, 156,173],
  [1,95, 9,0, 16.5,0, 28.8,140, 31,165, 32.5,175, 36,172, 38,175, 42,177, 46,174, 50,176, 54,168, 58,130, 62,85, 66,38, 69,0, 71,0, 81.5,140, 84,165, 85.5,176, 89,172, 91,176, 95,174, 99,175, 102,158, 106,120, 110,80, 114,40, 118,5, 119.5,0, 123,0, 133,140, 135,165, 136.5,176, 141,170, 143,176, 147,175, 151,177, 156,176],
  [1,103, 16,0, 19,0, 29.5,140, 33.6,140, 37,136, 40,138, 43,126, 46,118, 49,104, 53,82, 57,55, 61,22, 63.5,0, 71,0, 83,140, 86,140, 89,132, 92,122, 95,110, 98,98, 101,86, 105,66, 109,40, 113,12, 115,0, 122.5,0, 133,140, 138.7,140, 141,138, 144,130, 147,142, 150,132, 153,138, 156,130],
  [1,108, 7.5,0, 15,0, 25.6,175, 29,173, 33,176, 37,172, 40,170, 43,162, 46,148, 50,120, 54,90, 58,60, 62,28, 65.5,0, 70,0, 79.1,175, 82,174, 86,176, 90,170, 93,158, 96,138, 100,112, 104,85, 108,58, 112,30, 116,5, 117,0, 122,0, 131.3,175, 134,176, 138,173, 142,176, 146,172, 150,175, 156,171],
  [1,100, 11.5,0, 17.5,0, 28.8,140, 33.6,140, 35,160, 36.5,172, 41,170, 44,176, 48,173, 52,165, 56,128, 60,85, 64,40, 67.5,0, 70.5,0, 81.2,140, 86,140, 87.5,160, 89,172, 94,175, 98,172, 101,155, 105,118, 109,80, 113,40, 117,5, 118,0, 122.5,0, 132.3,140, 138.7,140, 140,155, 143,168, 146,176, 150,172, 153,177, 156,170],
  [1,104, 9,0, 16.5,0, 27,175, 30,175, 34,171, 37,174, 40,166, 43,152, 46,138, 49,120, 53,95, 57,66, 61,34, 64.5,0, 69.5,0, 79.5,175, 83,175, 86,168, 89,155, 92,140, 95,125, 98,110, 102,90, 106,66, 110,40, 114,12, 115.5,0, 121.5,0, 131.5,175, 135,175, 139,168, 142,160, 145,165, 148,155, 151,162, 156,155],
  [1,97, 12,0, 20,0, 30,140, 33.6,140, 36,140, 39,150, 42,146, 45,136, 48,124, 51,108, 55,82, 59,52, 63,18, 65,0, 72,0, 83.5,140, 86,140, 89,146, 92,136, 95,124, 98,110, 102,88, 106,62, 110,35, 114,8, 115,0, 123.3,0, 134,140, 138.7,140, 141,150, 144,138, 147,145, 150,132, 153,140, 156,135],
  [1,110, 10,0, 16,0, 26.5,175, 30,176, 34,174, 38,177, 42,175, 46,177, 50,174, 53,172, 56.5,150, 60,108, 64,62, 68,15, 70.5,0, 72,0, 80.5,175, 85,177, 90,175, 95,177, 99,172, 102,158, 106,122, 110,85, 114,48, 118,12, 120.5,0, 123.3,0, 132,175, 136,177, 141,175, 146,177, 151,175, 156,172],
  [1,102, 6,45, 9,28, 11,22, 13,27, 15,15, 16.5,0, 19.5,0, 29.5,140, 33.6,140, 36,130, 38,138, 41,128, 44,132, 47,120, 50,108, 54,84, 58,56, 62,22, 64.5,0, 69,0, 82.5,140, 86,140, 88,126, 91,132, 94,122, 97,110, 100,98, 104,76, 108,50, 112,22, 115,0, 121.5,0, 133,140, 138.7,140, 140,130, 143,138, 146,125, 149,132, 152,128, 156,136],
  [1,105, 8.5,0, 16,0, 27,175, 29,174, 33,176, 37,171, 41,175, 44,170, 47,162, 50,142, 54,108, 58,74, 62,38, 65.5,5, 66.5,0, 70.5,0, 79.1,175, 83,176, 87,172, 90,162, 93,145, 96,128, 99,112, 103,88, 107,60, 111,32, 115,5, 116,0, 122,0, 131.3,175, 135,173, 139,176, 143,170, 147,174, 151,168, 156,172],
  [1,98, 11,0, 17,0, 28.8,140, 33.6,140, 36,155, 39,148, 42,160, 45,150, 48,140, 51,124, 55,95, 59,62, 63,22, 65.5,0, 70,0, 81.5,140, 86,140, 89,155, 92,148, 95,138, 98,125, 101,110, 105,84, 109,55, 113,22, 116,0, 121.5,0, 132.3,140, 138.7,140, 141,160, 144,150, 147,165, 150,155, 153,168, 156,160],
  [1,107, 9,0, 16.5,0, 26,175, 30,177, 34,173, 38,176, 42,172, 45,175, 48,171, 51,155, 55,120, 59,84, 63,45, 66.5,8, 68,0, 71,0, 80,175, 84,177, 88,173, 92,176, 96,170, 99,155, 102,130, 106,98, 110,64, 114,28, 118,0, 123,0, 131.5,175, 135,177, 140,173, 144,176, 148,172, 152,176, 156,174],
  [1,101, 10,0, 17,0, 28.8,140, 33.6,140, 36,124, 39,116, 41,122, 44,110, 47,102, 50,94, 53,82, 57,56, 61,24, 63.5,5, 66,8, 68,18, 69.5,0, 70.5,0, 81.5,140, 86,140, 88,124, 90,110, 92,104, 94,110, 97,96, 100,90, 104,74, 108,48, 112,18, 114.5,0, 120.5,0, 132.5,140, 138.7,140, 140,128, 143,122, 146,130, 149,118, 152,125, 156,112],
  [1,104, 15,0, 19.5,0, 29,145, 31.5,170, 33,176, 37,172, 40,176, 44,174, 48,177, 51,174, 54,162, 58,122, 62,78, 66,30, 69,0, 71,0, 82,148, 84.5,172, 86,176, 89,172, 92,176, 96,173, 99,165, 102,142, 106,106, 110,68, 114,30, 118,0, 123,0, 133,148, 135.5,172, 137,176, 141,168, 144,174, 148,176, 152,173, 156,177],
  [1,99, 10.5,0, 17,0, 28.8,140, 33.6,140, 36,148, 39,140, 42,132, 45,120, 48,106, 51,92, 55,68, 59,40, 62,12, 63.5,0, 69,0, 81.5,140, 86,140, 88,140, 90,125, 92,115, 95,105, 98,96, 101,90, 104,78, 108,52, 112,22, 115.5,0, 121,0, 132.5,140, 138.7,140, 141,142, 144,135, 147,148, 150,140, 153,150, 156,145],
  [1,106, 9.5,0, 16,0, 26.5,175, 30,174, 33,177, 37,173, 40,176, 43,172, 46,174, 49,166, 53,138, 57,102, 61,64, 65,25, 68,0, 70.5,0, 79.5,175, 83,174, 87,177, 91,172, 95,175, 98,168, 101,148, 105,114, 109,78, 113,42, 117,8, 118.5,0, 122.5,0, 131.3,175, 135,174, 139,177, 143,173, 147,176, 151,172, 156,175],
  [1,103, 11,0, 17.5,0, 28.8,140, 30,155, 32,168, 34,162, 36,172, 38,165, 41,160, 44,170, 47,160, 50,146, 54,112, 58,78, 62,40, 65.5,0, 70,0, 81.5,140, 86,140, 89,160, 92,170, 95,162, 98,150, 101,130, 105,100, 109,66, 113,30, 117,0, 122,0, 132.5,140, 138.7,140, 141,160, 144,170, 147,162, 150,172, 153,166, 156,172],
  [1,100, 12,0, 19.5,0, 29.5,140, 33.6,140, 36,132, 39,136, 42,122, 45,112, 48,100, 51,86, 55,62, 58,40, 61,14, 63,0, 71,0, 82.5,140, 86,140, 88,132, 90,120, 93,108, 96,100, 99,94, 102,84, 106,62, 110,38, 113.5,10, 114.5,0, 122.5,0, 133,140, 138.7,140, 141,126, 144,134, 147,120, 150,128, 153,118, 156,124],
  [1,104, 3,112, 5.9,129, 9,85, 12,40, 14.5,0, 18,0, 27,175, 31,176, 35,173, 39,176, 43,172, 47,168, 51,138, 55,100, 59,64, 63,28, 66.5,0, 70,0, 79.5,175, 84,176, 88,173, 92,176, 96,170, 100,152, 104,118, 108,84, 112,48, 116,14, 118,0, 122,0, 131.5,175, 136,176, 141,172, 146,176, 151,171, 156,174],
  [1,110, 2.7,116, 5,80, 8,35, 10,0, 16.5,0, 28.8,140, 33.6,140, 37,130, 40,136, 43,124, 46,116, 49,102, 53,80, 57,52, 61,20, 63.5,0, 69,0, 81.5,140, 86,140, 89,138, 92,126, 95,114, 98,100, 102,80, 106,55, 110,28, 114,0, 121,0, 132.5,140, 138.7,140, 141,152, 144,146, 147,158, 150,150, 153,160, 156,155],
  [1,98, 4,62, 6.5,46, 8.1,76, 10,50, 12,30, 14,22, 15.5,8, 16.5,0, 19,0, 29.5,140, 33.6,140, 36,142, 39,128, 42,122, 45,112, 48,100, 52,80, 56,55, 60,25, 63,0, 69,0, 82,140, 86,140, 89,132, 92,118, 95,106, 98,92, 102,72, 106,48, 110,22, 113.5,0, 121,0, 133,140, 138.7,140, 141,135, 144,142, 147,130, 150,138, 153,126, 156,132],
  [1,102, 6,62, 8.5,42, 11.8,63, 14,35, 16,15, 17.5,0, 19.5,0, 29.5,140, 33.6,140, 36,146, 39,150, 42,140, 45,130, 48,118, 52,96, 56,68, 60,36, 63.5,0, 69.5,0, 82,140, 86,140, 89,150, 92,140, 95,128, 98,115, 102,95, 106,70, 110,42, 114,12, 115.5,0, 121.5,0, 133,140, 138.7,140, 141,150, 144,158, 147,148, 150,160, 153,152, 156,158],
  [1,102, 10,0, 17,0, 28.8,140, 33.6,140, 37,110, 39,63, 41,91, 43,84, 45,88, 47,82, 49,80, 52,68, 56.6,51, 60,22, 63,0, 68.5,0, 82,140, 86,140, 88,118, 90.8,89, 92,100, 95,74, 97,82, 99.3,57, 102,48, 106,30, 110,15, 114.2,0, 121,0, 132.5,140, 138.7,140, 140,125, 141.9,100, 143,115, 146,108, 149,104, 151,95, 153,85, 156.3,67.7],
  [1,105, 9,0, 16,0, 27,175, 31,174, 35,176, 39,172, 43,170, 47,150, 49,140, 52,120, 54,142, 57.6,152.6, 60,128, 63,90, 66,45, 69,8, 70.5,0, 72,0, 81,175, 85,176, 89,173, 93,175, 97,170, 100,155, 104,122, 108,88, 112,52, 116,15, 118,0, 122.5,0, 131.3,175, 135,176, 140,172, 145,175, 150,170, 156,173],
  [1,101, 11,0, 17,0, 28.8,140, 33.6,140, 37,155, 40,165, 44,172, 48,168, 52,152, 56,116, 60,76, 64,34, 67,0, 70,0, 80,175, 84,176, 88,172, 92,176, 96,174, 98.8,172, 100.9,175.7, 104,165, 106.5,150, 110,136, 113,110, 116,75, 119,35, 121.5,0, 123,0, 131.5,175, 135,176, 140,172, 145,176, 150,173, 156,176],
  [1,106, 8.5,0, 16,0, 26.5,175, 30,175, 34,172, 38,175, 42,168, 46,150, 50,122, 54,90, 58,58, 62,24, 65,0, 69.5,0, 79.5,175, 83,172, 86,150, 89,110, 91,98, 93,104, 96,90, 98,78, 101,70, 104,52, 108,30, 112,8, 113.5,0, 121,0, 131.3,175, 135,174, 139,176, 143,172, 147,175, 151,170, 156,166],
  [1,99, 13,0, 18.5,0, 29.5,140, 33.6,140, 36,138, 39,145, 42,135, 45,125, 48,112, 51,98, 55,72, 59,42, 62,12, 64,0, 69,0, 82,140, 86,140, 89,134, 92,122, 95,110, 98,96, 102,74, 106,48, 110,20, 113.5,0, 121,0, 133,140, 138.7,140, 142,125, 145,113, 147,125, 150,115, 153,108, 156,102],
  [1,103, 10.5,0, 17,0, 28.8,140, 33.6,140, 36,160, 39,170, 42,175, 46,170, 50,160, 54,130, 58,92, 62,52, 65.5,12, 67,0, 70.5,0, 81.5,140, 86,140, 89,162, 92,172, 95,168, 98,158, 101,135, 105,102, 109,68, 113,30, 116.5,0, 122,0, 132.5,140, 138.7,140, 141,130, 144,122, 147,132, 150,120, 153,118, 156,116],
  [1,100, 11,0, 17.5,0, 28.8,140, 33.6,140, 36,118, 38,100, 40,104, 42,92, 44,96, 46,86, 48,88, 51,72, 54,62, 57,48, 60,26, 62.5,0, 68.5,0, 81.5,140, 86,140, 88,120, 90,105, 93,96, 95,100, 98,84, 100,80, 103,66, 107,42, 111,18, 114,0, 120.5,0, 132.5,140, 138.7,140, 141,135, 144,128, 147,136, 150,126, 153,130, 156,122],
  [1,104, 9.5,0, 16.5,0, 28.8,140, 33.6,140, 36,112, 38,98, 41,92, 43,88, 46,84, 49,76, 52,64, 56,45, 59,22, 62,0, 68,0, 81.5,140, 86,140, 88,112, 91,98, 93,90, 96,84, 99,74, 102,60, 106,42, 110,20, 113,0, 120,0, 132.5,140, 138.7,140, 141,140, 144,132, 147,140, 150,130, 153,134, 156,128],
  [1,104, 9,0, 16.5,0, 27,175, 30,167, 32,176, 35,162, 37,173, 40,157, 42,170, 45,156, 48,164, 51,145, 54,120, 58,86, 62,48, 66,8, 67,0, 70.5,0, 80,175, 82,166, 85,176, 88,158, 91,170, 94,150, 97,138, 100,120, 104,92, 108,62, 112,32, 116,5, 117,0, 122,0, 131.3,175, 134,162, 137,176, 140,156, 143,170, 146,150, 149,165, 152,146, 156,158],
  [1,98, 10,0, 17,0, 28.8,140, 33.6,140, 35,158, 37,148, 39,168, 41,156, 43,172, 46,160, 49,168, 52,152, 55,130, 59,95, 63,52, 66.5,12, 67.5,0, 70.5,0, 81.5,140, 86,140, 88,158, 90,148, 92,166, 95,150, 98,140, 101,118, 105,88, 109,58, 113,25, 116,0, 121.5,0, 132.5,140, 138.7,140, 140,160, 142,146, 145,170, 148,150, 151,166, 153,148, 156,156],
  [1,107, 8.5,0, 16,0, 26,175, 29,170, 31,176, 34,163, 36,174, 39,164, 41,176, 44,160, 47,172, 50,162, 53,166, 56,142, 60,102, 64,56, 68,10, 69.5,0, 71.5,0, 79.5,175, 82,168, 85,177, 88,163, 91,176, 94,165, 97,170, 100,150, 104,118, 108,84, 112,48, 116,14, 118.5,0, 123,0, 131.5,175, 133,165, 136,177, 139,163, 142,176, 145,160, 148,174, 151,161, 154,172, 156,164],
  [1,101, 11.5,0, 17.5,0, 28.8,140, 33.6,140, 35,130, 37,144, 39,128, 41,140, 43,122, 45,132, 47,115, 50,106, 53,90, 57,60, 61,26, 63.5,0, 69,0, 81.5,140, 86,140, 88,128, 90,138, 92,120, 94,128, 96,110, 99,96, 103,78, 107,52, 111,24, 114.5,0, 121,0, 132.5,140, 138.7,140, 140,130, 142,144, 144,126, 146,138, 149,122, 152,136, 154,126, 156,132],
  [1,105, 9.5,0, 16.5,0, 27,175, 30,171, 33,176, 36,168, 39,177, 42,166, 45,175, 48,166, 51,172, 54,155, 58,118, 62,76, 66,32, 69,0, 71,0, 80,175, 83,170, 86,177, 89,167, 92,176, 95,164, 98,168, 101,150, 105,116, 109,80, 113,42, 117,8, 118.5,0, 122.5,0, 131.5,175, 134,170, 137,177, 140,168, 143,176, 146,166, 149,175, 152,168, 156,173],
  [1,100, 12,0, 18,0, 29,140, 33.6,140, 35,150, 37,138, 40,154, 42,144, 44,158, 46,140, 49,134, 52,112, 56,82, 60,46, 63.5,8, 64.5,0, 69.5,0, 82,140, 86,140, 88,150, 90,136, 92,148, 94,132, 96,124, 99,110, 103,86, 107,58, 111,28, 114.5,0, 121,0, 133,140, 138.7,140, 140,152, 142,138, 144,158, 146,144, 148,160, 151,142, 154,154, 156,146],
  [1,108, 8,0, 15,0, 25.6,175, 28,177, 31,170, 34,177, 37,168, 40,176, 43,170, 46,177, 49,168, 52,162, 56,138, 60,100, 64,58, 68,14, 69.5,0, 72,0, 79.1,175, 82,177, 85,170, 88,177, 91,169, 94,176, 97,166, 100,152, 104,118, 108,82, 112,46, 116,12, 118,0, 123,0, 131.3,175, 133,177, 136,170, 139,177, 142,168, 145,176, 148,170, 151,177, 154,168, 156,172],
  [1,102, 10.5,0, 17,0, 28.8,140, 33.6,140, 35,136, 37,124, 39,130, 41,116, 43,122, 45,108, 48,100, 51,86, 54,72, 58,48, 61,22, 63,0, 68.5,0, 81.5,140, 86,140, 88,130, 90,116, 92,122, 94,108, 96,112, 98,98, 101,88, 105,66, 109,40, 112.5,12, 113.5,0, 120,0, 132.5,140, 138.7,140, 140,135, 142,122, 144,130, 146,116, 148,124, 150,112, 153,122, 156,114],
  [1,101, 9.5,0, 17,0, 27.5,165, 29,175, 30,158, 31.5,172, 33,148, 34.5,168, 36,146, 37.5,170, 39,150, 40.5,166, 42,144, 43.5,160, 45,138, 47,148, 49,126, 52,106, 56,74, 60,40, 64,5, 65,0, 69.5,0, 80,170, 81.5,158, 83,174, 84.5,152, 86,170, 87.5,148, 89,164, 90.5,140, 92,152, 94,126, 96,118, 99,100, 103,76, 107,48, 111,20, 114,0, 121,0, 131.3,170, 132.5,160, 134,175, 135.5,150, 137,168, 138.5,145, 140,165, 141.5,140, 143,160, 144.5,136, 146,156, 147.5,134, 149,152, 150.5,130, 152,148, 153.5,128, 155,146, 156,138],
  [1,106, 8,0, 16,0, 26,175, 28,168, 29.5,176, 31,160, 32.5,175, 34,156, 35.5,174, 37,158, 38.5,176, 40,154, 41.5,172, 43,156, 44.5,170, 46,150, 48,160, 50,140, 53,118, 57,84, 61,48, 65,10, 66.5,0, 70.5,0, 79.1,175, 80.5,162, 82,176, 83.5,156, 85,175, 86.5,158, 88,176, 89.5,152, 91,170, 92.5,150, 94,160, 96,138, 99,118, 103,90, 107,60, 111,30, 115,3, 115.5,0, 121.5,0, 131.3,175, 132.5,160, 134,176, 135.5,156, 137,175, 138.5,154, 140,176, 141.5,150, 143,172, 144.5,148, 146,170, 147.5,146, 149,168, 150.5,144, 152,165, 153.5,142, 155,160, 156,150],
  [1,99, 11,0, 18,0, 28.8,140, 33.6,140, 35,165, 36.5,150, 38,172, 39.5,154, 41,176, 42.5,156, 44,174, 45.5,150, 47,170, 48.5,148, 50,160, 52,140, 55,112, 59,75, 63,35, 66.5,0, 70.5,0, 81.5,140, 86,140, 87.5,165, 89,148, 90.5,170, 92,150, 93.5,168, 95,146, 97,150, 99,128, 102,108, 106,80, 110,48, 114,15, 116,0, 122,0, 132.5,140, 138.7,140, 140,165, 141.5,150, 143,172, 144.5,152, 146,176, 147.5,154, 149,170, 150.5,148, 152,166, 153.5,146, 155,162, 156,152],
  [1,104, 10,0, 17,0, 28.8,140, 33.6,140, 35,155, 36.5,138, 38,158, 39.5,140, 41,156, 42.5,134, 44,150, 45.5,128, 47,140, 49,118, 52,98, 56,66, 60,32, 63,5, 64,0, 69.5,0, 81.5,140, 86,140, 87.5,154, 89,136, 90.5,150, 92,128, 93.5,138, 95,116, 97,120, 99,102, 102,90, 106,66, 110,40, 114,10, 115,0, 121,0, 132.5,140, 138.7,140, 140,156, 141.5,136, 143,158, 144.5,138, 146,155, 147.5,132, 149,150, 150.5,128, 152,146, 153.5,124, 155,140, 156,130],
  [1,102, 9,0, 16.5,0, 27,175, 28.5,162, 30,176, 31.5,164, 33,177, 34.5,158, 36,175, 37.5,162, 39,177, 40.5,158, 42,176, 43.5,160, 45,175, 46.5,156, 48,170, 49.5,152, 51,166, 53,145, 56,116, 60,74, 64,30, 67.5,0, 71,0, 80,175, 81.5,162, 83,177, 84.5,160, 86,176, 87.5,158, 89,177, 90.5,160, 92,174, 93.5,154, 95,168, 97,148, 100,125, 104,95, 108,62, 112,30, 116,2, 116.5,0, 122,0, 131.5,175, 132.5,164, 134,177, 135.5,162, 137,176, 138.5,160, 140,177, 141.5,160, 143,176, 144.5,157, 146,175, 147.5,158, 149,176, 150.5,156, 152,174, 153.5,155, 155,171, 156,163],
  [1,100, 12,0, 18.5,0, 29,140, 33.6,140, 35,148, 36.5,134, 38,150, 39.5,128, 41,144, 42.5,124, 44,138, 45.5,118, 47,128, 49,108, 52,90, 56,60, 60,26, 62.5,0, 68.5,0, 82,140, 86,140, 87.5,150, 89,130, 90.5,144, 92,124, 93.5,134, 95,112, 97,116, 99,98, 102,88, 106,64, 110,36, 113.5,5, 114,0, 120.5,0, 133,140, 138.7,140, 140,148, 141.5,130, 143,150, 144.5,126, 146,144, 147.5,122, 149,138, 150.5,118, 152,134, 153.5,116, 155,130, 156,120],
];

const xTicks = [0, 50, 100, 150];
const yTicks = [0, 50, 100, 150];
const xTitle = "Week";
const yTitle = "Volume [Mm3]";

type Spec = {
  id: string;
  xDomain: [number, number];
  xRange: [number, number];
  yDomain: [number, number];
  yRange: [number, number];
  tick: number;
  fontSize: number;
  xLabelBase: number;
  yLabelBase: number;
  yTitleBase: number;
  xTitleBase: number;
};

const leftSpec: Spec = {
  id: "l",
  xDomain: [-5.2, 162.2],
  xRange: [81.5, 600.3],
  yDomain: [-7.25, 185.75],
  yRange: [481.7, 18.5],
  tick: 9,
  fontSize: 21,
  xLabelBase: 515.5,
  yLabelBase: 61.5,
  yTitleBase: 25,
  xTitleBase: 550.5,
};

const rightSpec: Spec = {
  id: "r",
  xDomain: [-5.24, 162.2],
  xRange: [679.3, 1203.6],
  yDomain: [-7.34, 184.8],
  yRange: [487.3, 16],
  tick: 8.7,
  fontSize: 22,
  xLabelBase: 521,
  yLabelBase: 658.5,
  yTitleBase: 625,
  xTitleBase: 554.5,
};

const FONT = "'Liberation Sans', Arial, Helvetica, sans-serif";

function toPoints(run: number[]): [number, number][] {
  const pts: [number, number][] = [];
  for (let i = 0; i < run.length; i += 2) pts.push([run[i], run[i + 1]]);
  return pts;
}

function Panel({ runs, spec }: { runs: number[][]; spec: Spec }) {
  const x = d3.scaleLinear().domain(spec.xDomain).range(spec.xRange);
  const y = d3.scaleLinear().domain(spec.yDomain).range(spec.yRange);
  const line = d3
    .line<[number, number]>()
    .x((d) => x(d[0]))
    .y((d) => y(d[1]));
  const [x0, x1] = spec.xRange;
  const [yb, yt] = spec.yRange;
  const clipId = `clip-${spec.id}`;
  return (
    <g>
      <defs>
        <clipPath id={clipId}>
          <rect x={x0} y={yt} width={x1 - x0} height={yb - yt} />
        </clipPath>
      </defs>
      <g clipPath={`url(#${clipId})`}>
        {runs.map((r, i) => (
          <path
            key={i}
            d={line(toPoints(r)) || ""}
            fill="none"
            stroke="#222"
            strokeWidth={1.9}
            strokeLinejoin="round"
          />
        ))}
      </g>
      <rect x={x0} y={yt} width={x1 - x0} height={yb - yt} fill="none" stroke="#6e6e6e" strokeWidth={1.6} />
      {xTicks.map((t) => (
        <g key={`xt${t}`}>
          <line x1={x(t)} x2={x(t)} y1={yb} y2={yb + spec.tick} stroke="#6e6e6e" strokeWidth={1.5} />
          <text x={x(t)} y={spec.xLabelBase} textAnchor="middle" fontSize={spec.fontSize} fontFamily={FONT} fill="#222">
            {t}
          </text>
        </g>
      ))}
      {yTicks.map((t) => (
        <g key={`yt${t}`}>
          <line x1={x0 - spec.tick} x2={x0} y1={y(t)} y2={y(t)} stroke="#6e6e6e" strokeWidth={1.5} />
          <text
            transform={`translate(${spec.yLabelBase},${y(t)}) rotate(-90)`}
            textAnchor="middle"
            fontSize={spec.fontSize}
            fontFamily={FONT}
            fill="#222"
          >
            {t}
          </text>
        </g>
      ))}
      <text x={(x0 + x1) / 2} y={spec.xTitleBase} textAnchor="middle" fontSize={spec.fontSize} fontFamily={FONT} fill="#222">
        {xTitle}
      </text>
      <text
        transform={`translate(${spec.yTitleBase},${(yt + yb) / 2}) rotate(-90)`}
        textAnchor="middle"
        fontSize={spec.fontSize}
        fontFamily={FONT}
        fill="#222"
      >
        {yTitle}
      </text>
    </g>
  );
}

export default function App() {
  return (
    <svg
      width={1192}
      height={558}
      viewBox="0 0 1192 558"
      style={{ position: "absolute", left: 0, top: 0, background: "#fff" }}
    >
      <rect x={0} y={0} width={1192} height={558} fill="#fff" />
      <line x1={11} x2={602} y1={11.5} y2={11.5} stroke="#cfcfcf" strokeWidth={1.2} />
      <line x1={11} x2={602} y1={554.5} y2={554.5} stroke="#cfcfcf" strokeWidth={1.2} />
      <line x1={602} x2={602} y1={11.5} y2={554.5} stroke="#cfcfcf" strokeWidth={1.2} />
      <line x1={605.5} x2={605.5} y1={8} y2={556} stroke="#dcdcdc" strokeWidth={1} />
      <Panel runs={leftRuns} spec={leftSpec} />
      <Panel runs={rightRuns} spec={rightSpec} />
    </svg>
  );
}
